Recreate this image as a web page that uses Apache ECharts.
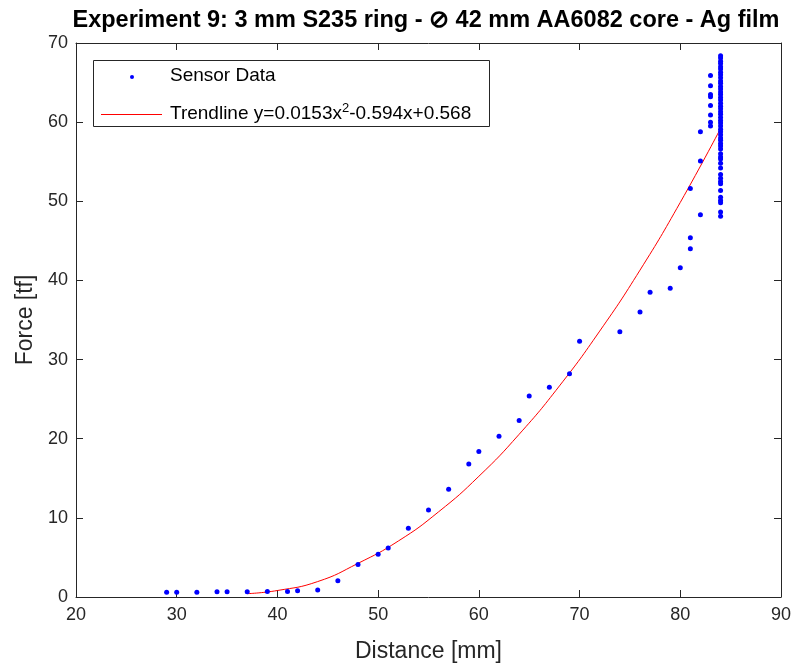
<!DOCTYPE html>
<html>
<head>
<meta charset="utf-8">
<script src="https://cdn.jsdelivr.net/npm/echarts@6/dist/echarts.min.js"></script>
<style>html,body{margin:0;padding:0;background:#fff}#c{width:794px;height:664px}</style>
</head>
<body>
<div id="c"></div>
<script>
// Sensor data (distance mm, force tf)
const sensorX = [29,30,32,34,35,37,39,41,42,44,46,48,50,51,53,55,57,59,60,62,64,65,67,69,70,74,76,77,79,80,81,81,81,82,82,82,
  83,83,83,83,83,83,83,83,
  84,84,84,84,84,84,84,84,84,84,84,84,84,84,84,84,84,84,84,84,84,84,84,84,84,84,84,84,84,84,84,84,84,84,
  84,84,84,84,84,84,84,84,84,84,84,84,84,84,84];
const sensorY = [0.6,0.6,0.6,0.65,0.65,0.65,0.7,0.7,0.8,0.9,2.05,4.1,5.4,6.2,8.7,11.0,13.6,16.8,18.4,20.3,22.3,25.4,26.5,28.2,32.3,33.5,36.0,38.5,39.0,41.6,44.0,45.4,51.6,48.3,55.1,58.8,
  59.5,60.0,60.9,62.1,63.2,63.5,64.6,65.9,
  68.4,68.1,67.7,67.4,67.0,66.7,66.3,66.0,65.6,65.2,64.9,64.5,64.2,63.8,63.5,63.1,62.8,62.4,62.0,61.7,61.3,61.0,60.6,60.2,59.9,59.5,59.1,58.8,58.4,58.0,57.7,57.3,57.0,56.6,
  56.0,55.6,55.35,54.8,54.2,53.4,52.9,52.5,52.2,51.35,50.5,50.1,49.8,48.65,48.1];
// Trendline as drawn
const trendX = [37,40,44,48,52,56,60,64,68,72,76,80,84];
const trendY = [0.42,0.82,1.95,4.25,7.07,10.76,15.25,20.56,26.67,33.6,41.3,49.86,59.2];
const xTicks = {min:20, max:90, step:10};
const yTicks = {min:0, max:70, step:10};

const titleText = 'Experiment 9: 3 mm S235 ring - \u2298 42 mm AA6082 core - Ag film';
const axisColor = '#262626';
const font = 'Liberation Sans, Arial, Helvetica, sans-serif';

const chart = echarts.init(document.getElementById('c'), null, {renderer:'canvas'});
const baseAxis = {
  type:'value',
  axisLine:{show:true, onZero:false, lineStyle:{color:axisColor, width:1}},
  axisTick:{show:true, inside:true, length:7, lineStyle:{color:axisColor, width:1}},
  splitLine:{show:false},
};
const option = {
  animation:false,
  backgroundColor:'#fff',
  title:{
    text:titleText, left:421, textAlign:'center', top:4,
    textStyle:{fontFamily:font, fontSize:23.5, fontWeight:'bold', color:'#000'}
  },
  grid:{left:76, right:13, top:43, bottom:67, containLabel:false, outerBoundsMode:'none'},
  xAxis:[
    Object.assign({}, baseAxis, {
      position:'bottom', min:xTicks.min, max:xTicks.max, interval:xTicks.step,
      axisLabel:{fontFamily:font, fontSize:18, color:axisColor, margin:9},
      name:'Distance [mm]', nameLocation:'middle', nameGap:43,
      nameTextStyle:{fontFamily:font, fontSize:23, color:axisColor}
    }),
    Object.assign({}, baseAxis, {
      position:'top', min:xTicks.min, max:xTicks.max, interval:xTicks.step,
      axisLabel:{show:false}
    })
  ],
  yAxis:[
    Object.assign({}, baseAxis, {
      position:'left', min:yTicks.min, max:yTicks.max, interval:yTicks.step,
      axisLabel:{fontFamily:font, fontSize:18, color:axisColor, margin:8},
      name:'Force [tf]', nameLocation:'middle', nameGap:34,
      nameTextStyle:{fontFamily:font, fontSize:23, color:axisColor}
    }),
    Object.assign({}, baseAxis, {
      position:'right', min:yTicks.min, max:yTicks.max, interval:yTicks.step,
      axisLabel:{show:false}
    })
  ],
  series:[
    {
      name:'Trendline', type:'line', xAxisIndex:0, yAxisIndex:0,
      data:trendX.map((x,i)=>[x,trendY[i]]),
      smooth:true, showSymbol:false, symbol:'none',
      lineStyle:{color:'#ff0000', width:1}, z:2
    },
    {
      name:'Sensor Data', type:'scatter', xAxisIndex:0, yAxisIndex:0,
      data:sensorX.map((x,i)=>[x,sensorY[i]]),
      symbol:'circle', symbolSize:5,
      itemStyle:{color:'#0000ff', opacity:1}, z:3
    }
  ],
  graphic:[
    {type:'rect', shape:{x:93.5, y:60.5, width:396, height:66},
     style:{fill:'#fff', stroke:axisColor, lineWidth:1}, z:10},
    {type:'circle', shape:{cx:132, cy:77, r:2}, style:{fill:'#0000ff'}, z:11},
    {type:'line', shape:{x1:101, y1:114.5, x2:162, y2:114.5}, style:{stroke:'#ff0000', lineWidth:1}, z:11},
    {type:'text', x:170, y:76, z:11,
     style:{text:'Sensor Data', fontFamily:font, fontSize:19, fill:'#000', verticalAlign:'middle'}},
    {type:'text', x:170, y:114, z:11,
     style:{text:'{a|Trendline y=0.0153x}{s|2}{a|-0.594x+0.568}', verticalAlign:'middle',
       rich:{a:{fontFamily:font, fontSize:19, fill:'#000', lineHeight:24},
             s:{fontFamily:font, fontSize:13, fill:'#000', verticalAlign:'top', lineHeight:13}}}}
  ]
};
chart.setOption(option);
</script>
</body>
</html>
